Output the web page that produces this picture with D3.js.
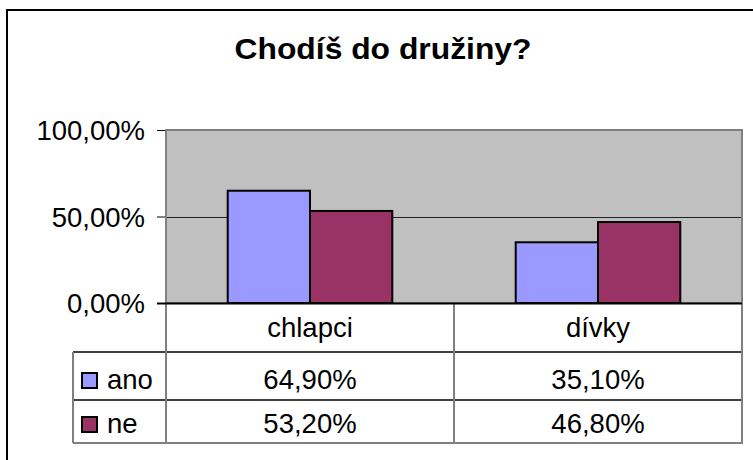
<!DOCTYPE html>
<html>
<head>
<meta charset="utf-8">
<script src="https://cdn.jsdelivr.net/npm/d3@7"></script>
<style>
    body { margin: 0; background: #fff; }
    text { font-family: Arial, 'Liberation Sans', sans-serif; fill: #000; }
</style>
</head>
<body>
<svg id="svg1" width="753" height="460"></svg>
<script>
var categories = ['chlapci', 'dívky'];
var seriesNames = ['ano', 'ne'];
var ano = [0.649, 0.351];
var ne = [0.532, 0.468];
var yTicks = [0, 0.5, 1];
var colors = ['#9999FF', '#993366'];

var svg = d3.select('#svg1');

var plot = {l: 166, r: 742, t: 130, b: 303};
var rows = {header: 352, ano: 400, ne: 443, left: 73};
var fontSize = 27.5;

var csLocale = d3.formatLocale({decimal: ',', thousands: ' ', grouping: [3], currency: ['', ' Kč']});
var pct = csLocale.format('.2%');

var seriesValues = [ano, ne];

// chart frame (runs off the picture right and bottom)
svg.append('rect')
    .attr('x', 7).attr('y', 10)
    .attr('width', 770).attr('height', 480)
    .style('fill', 'none')
    .style('stroke', '#000')
    .style('stroke-width', 2);

svg.append('text')
    .attr('x', 383)
    .attr('y', 59)
    .attr('text-anchor', 'middle')
    .attr('textLength', 297)
    .attr('lengthAdjust', 'spacingAndGlyphs')
    .style('font-size', '30px')
    .style('font-weight', 'bold')
    .text('Chodíš do družiny?');

var xScale = d3.scaleBand().domain(categories).range([plot.l, plot.r]);
var bw = xScale.bandwidth();
var xInner = d3.scaleBand().domain(seriesNames)
    .range([bw * 0.75 / 3.5, bw - bw * 0.75 / 3.5]);
var yScale = d3.scaleLinear().domain([0, 1]).range([plot.b, plot.t]);

// plot background
svg.append('rect')
    .attr('x', plot.l).attr('y', plot.t)
    .attr('width', plot.r - plot.l).attr('height', plot.b - plot.t)
    .style('fill', '#C0C0C0')
    .style('stroke', '#808080')
    .style('stroke-width', 2);

// gridlines
svg.append('g').selectAll('.grid')
    .data(yTicks.filter(function(d) { return d > 0 && d < 1; }))
    .enter()
    .append('line')
    .attr('x1', plot.l).attr('x2', plot.r)
    .attr('y1', function(d) { return Math.round(yScale(d)) + 0.5; })
    .attr('y2', function(d) { return Math.round(yScale(d)) + 0.5; })
    .style('stroke', '#222');

// bars
var groups = svg.append('g').selectAll('.series')
    .data(seriesNames)
    .enter()
    .append('g')
    .attr('class', 'series');

groups.selectAll('rect')
    .data(function(s, si) {
        return categories.map(function(c, ci) {
            return {cat: c, s: s, si: si, v: seriesValues[si][ci]};
        });
    })
    .enter()
    .append('rect')
    .attr('x', function(d) { return xScale(d.cat) + xInner(d.s); })
    .attr('y', function(d) { return yScale(d.v); })
    .attr('width', xInner.bandwidth())
    .attr('height', function(d) { return yScale(0) - yScale(d.v); })
    .style('fill', function(d) { return colors[d.si]; })
    .style('stroke', '#000')
    .style('stroke-width', 2);

// y axis
var yAxis = d3.axisLeft(yScale).tickValues(yTicks).tickSize(9).tickPadding(12)
    .tickFormat(function(d) { return pct(d); });

var yg = svg.append('g')
    .attr('transform', 'translate(' + [plot.l, 0] + ')')
    .call(yAxis);
yg.select('.domain').remove();
yg.selectAll('.tick line').style('stroke', '#000');
yg.selectAll('.tick text')
    .style('font-size', fontSize + 'px')
    .style('font-family', 'Arial, Liberation Sans, sans-serif')
    .attr('dy', '0.36em');

// data table
var table = svg.append('g');

// horizontal lines
table.append('line')
    .attr('x1', rows.left).attr('x2', plot.r)
    .attr('y1', rows.header).attr('y2', rows.header)
    .style('stroke', '#000').style('stroke-width', 1.5);
table.append('line')
    .attr('x1', rows.left).attr('x2', plot.r)
    .attr('y1', rows.ano).attr('y2', rows.ano)
    .style('stroke', '#000').style('stroke-width', 1.5);
table.append('line')
    .attr('x1', rows.left).attr('x2', plot.r + 1)
    .attr('y1', rows.ne).attr('y2', rows.ne)
    .style('stroke', '#808080').style('stroke-width', 2);

// vertical lines
table.append('line')
    .attr('x1', rows.left).attr('x2', rows.left)
    .attr('y1', rows.header).attr('y2', rows.ne)
    .style('stroke', '#808080').style('stroke-width', 2);
table.selectAll('.vline')
    .data(categories.concat(['end']))
    .enter()
    .append('line')
    .attr('x1', function(d, i) { return i < categories.length ? xScale(d) : plot.r; })
    .attr('x2', function(d, i) { return i < categories.length ? xScale(d) : plot.r; })
    .attr('y1', function(d, i) { return i == 1 ? plot.b : plot.t; })
    .attr('y2', rows.ne)
    .style('stroke', '#808080')
    .style('stroke-width', 2);

// x axis line
table.append('line')
    .attr('x1', plot.l - 9).attr('x2', plot.r)
    .attr('y1', plot.b + 0.5).attr('y2', plot.b + 0.5)
    .style('stroke', '#000').style('stroke-width', 2);

// category labels
table.selectAll('.cat')
    .data(categories)
    .enter()
    .append('text')
    .attr('x', function(d) { return xScale(d) + bw / 2; })
    .attr('y', 337)
    .attr('text-anchor', 'middle')
    .style('font-size', fontSize + 'px')
    .text(function(d) { return d; });

var rowBase = [389, 433];

seriesNames.forEach(function(s, si) {
    table.append('rect')
        .attr('x', 82).attr('y', rowBase[si] - 16)
        .attr('width', 15).attr('height', 15)
        .style('fill', colors[si])
        .style('stroke', '#000')
        .style('stroke-width', 2);
    table.append('text')
        .attr('x', 107).attr('y', rowBase[si])
        .style('font-size', fontSize + 'px')
        .text(s);
    table.selectAll('.val' + si)
        .data(seriesValues[si])
        .enter()
        .append('text')
        .attr('x', function(d, i) { return xScale(categories[i]) + bw / 2; })
        .attr('y', rowBase[si])
        .attr('text-anchor', 'middle')
        .style('font-size', fontSize + 'px')
        .text(function(d) { return pct(d); });
});
</script>
</body>
</html>
